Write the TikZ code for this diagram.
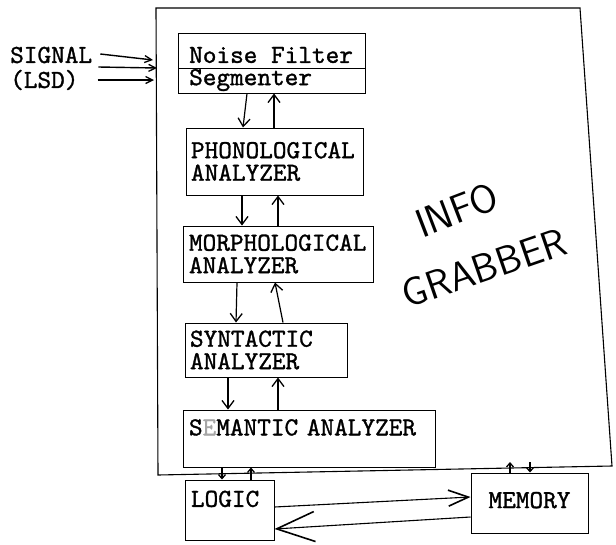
\documentclass[tikz,border=0pt]{standalone}
\usepackage{fontspec}
\usetikzlibrary{arrows.meta}
\newfontfamily\twfont{lmmono10-regular.otf}[FakeBold=1.2]
\newcommand{\mybxfont}{\twfont\fontsize{26}{22.5}\selectfont}
\newcommand{\myhandfont}{\sffamily\fontsize{40}{40}\selectfont}
\begin{document}
\begin{tikzpicture}[x=1pt,y=-1pt,
  box/.style={draw, line width=1pt, inner xsep=5pt, inner ysep=0pt, font=\mybxfont, align=left},
  lbl/.style={font=\mybxfont, inner sep=0pt, anchor=west},
  arr/.style={-{Straight Barb[length=8pt,width=12pt,line width=1.3pt]}, line width=1.2pt},
  tarr/.style={-{Straight Barb[length=4pt,width=7pt,line width=1.3pt]}, line width=1.2pt},
  sarr/.style={-{Straight Barb[length=7pt,width=7pt,line width=1.3pt]}, line width=1.4pt},
  hand/.style={font=\myhandfont, inner sep=0pt}]
\useasboundingbox (0,0) rectangle (616,544);
% outer INFO GRABBER box
\coordinate (gtl) at (156,8);
\coordinate (gtr) at (580,8);
\coordinate (gbr) at (612,466);
\coordinate (gbl) at (158,475);
\draw[line width=1.1pt] (gtl) -- (gtr) -- (gbr) -- (gbl) -- cycle;
% input signal
\node[lbl] (sig) at (10,55) {SIGNAL};
\node[lbl] (lsd) at (10,80) {(LSD)};
\coordinate (s1) at (153,60);
\coordinate (s2) at (157,68);
\coordinate (s3) at (154,80);
\draw[sarr] ([xshift=8pt,yshift=1pt]sig.east) -- (s1);
\draw[sarr] ([xshift=6pt,yshift=-12pt]sig.east) -- (s2);
\draw[sarr] ([xshift=19pt]lsd.east) -- (s3);
% noise filter / segmenter
\node[draw, line width=1pt, minimum width=187pt, minimum height=60pt, inner sep=0pt] (noise) at (271.5,63) {};
\draw[line width=1pt] (178,68) -- (365,68);
\node[lbl] (nf) at (189,55) {Noise Filter};
\node[lbl] (seg) at (189,80) {Segmenter};
% analyzers
\node[box, minimum height=67pt, text width=167pt] (phono) at (274.5,161.5) {PHONOLOGICAL\\ANALYZER};
\node[box, inner xsep=6pt, minimum height=56pt, text width=178pt] (morph) at (278,254) {MORPHOLOGICAL\\ANALYZER};
\node[box, minimum height=54pt, text width=152pt] (syn) at (266,350) {SYNTACTIC\\ANALYZER};
\node[box, inner xsep=6pt, minimum height=57pt, text width=240pt] (sem) at (309,438.5) {S\textcolor{black!35}{E}MANTIC ANALYZER\\\mbox{}};
\node[box, inner xsep=6pt, minimum height=60pt, text width=77pt] (logic) at (229.5,510) {LOGIC\\\mbox{}};
\node[draw, line width=1pt, minimum width=117pt, minimum height=60pt, inner sep=0pt, font=\mybxfont] (memory) at (529.5,503) {\raisebox{6pt}{MEMORY}};
% vertical connectors
\draw[arr] ([xshift=-24.5pt]noise.south) -- ([xshift=-31.5pt]phono.north);
\draw[arr] ([xshift=-0.5pt]phono.north) -- ([xshift=2.5pt]noise.south);
\draw[arr] ([xshift=-32.5pt]phono.south) -- ([xshift=-36pt]morph.north);
\draw[arr] (morph.north) -- ([xshift=3.5pt]phono.south);
\draw[arr] ([xshift=-41pt]morph.south) -- ([xshift=-30pt]syn.north);
\draw[arr] ([xshift=17pt]syn.north) -- ([xshift=-3pt]morph.south);
\draw[arr] ([xshift=-38pt]syn.south) -- ([xshift=-81pt]sem.north);
\draw[arr] ([xshift=-31pt]sem.north) -- ([xshift=12pt]syn.south);
\draw[tarr] ([xshift=-87pt]sem.south) -- ([xshift=-7.5pt]logic.north);
\draw[tarr] ([xshift=21.5pt]logic.north) -- ([xshift=-58pt]sem.south);
\coordinate (mu) at (510,462);
\coordinate (md) at (530,462);
\draw[tarr] ([xshift=-19.5pt]memory.north) -- (mu);
\draw[tarr] (md) -- ([xshift=0.5pt]memory.north);
% logic <-> memory
\draw[-{Straight Barb[length=20pt,width=16pt,line width=1.6pt]}, line width=1.1pt] ([yshift=3pt]logic.east) -- ([yshift=6pt]memory.west);
\draw[-{Straight Barb[length=38pt,width=30pt,line width=1.6pt]}, line width=1.1pt] ([yshift=-14pt]memory.west) -- ([yshift=-19pt]logic.east);
% handwritten label
\node[hand, rotate=21] (info) at (457,210) {INFO};
\node[hand, rotate=19] (grab) at (484,268) {GRABBER};
\end{tikzpicture}
\end{document}
